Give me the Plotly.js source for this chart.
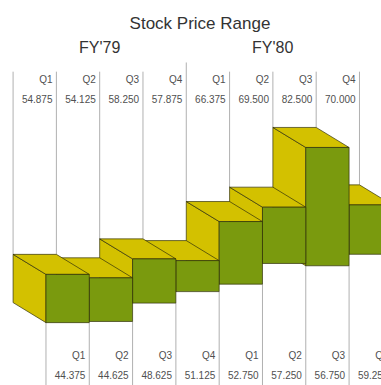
<!DOCTYPE html>
<html>
<head>
<meta charset="utf-8">
<script src="https://cdn.plot.ly/plotly-3.0.1.min.js"></script>
<style>html,body{margin:0;padding:0;background:#fff;overflow:hidden;}#chart{width:430px;height:385px;}</style>
</head>
<body>
<div id="chart"></div>
<script>
// ---- data ----
const years = ["FY'79", "FY'80"];
const quarters = ["Q1", "Q2", "Q3", "Q4", "Q1", "Q2", "Q3", "Q4"];
const highs = [54.875, 54.125, 58.25, 57.875, 66.375, 69.5, 82.5, 70.0];
const lows = [44.375, 44.625, 48.625, 51.125, 52.75, 57.25, 56.75, 59.25];
const highLabels = ["54.875", "54.125", "58.250", "57.875", "66.375", "69.500", "82.500", "70.000"];
const lowLabels = ["44.375", "44.625", "48.625", "51.125", "52.750", "57.250", "56.750", "59.250"];

// ---- style / projection constants ----
const DX = 0.76;      // oblique depth offset (category units, to the left)
const DY = 4.36;      // oblique depth offset (price units, upward)
const LINE_TOP = 99;  // top end of the label rules
const DIV_TOP = 101;  // top end of the fiscal-year divider
const LINE_BOTTOM = 20;
const GAP = 0.09;     // label gap from rule (category units)
const YELLOW = '#d3c100';
const GREEN = '#7a9a0e';
const EDGE = 'rgba(45,45,10,0.85)';
const RULE = '#b0b0b0';
const PLOT_W = 430;   // plot drawn wider than the 381px window; the right part is cut off
const X0 = -1.062, PX_PER_CAT = 43.3;
const n = highs.length;

const traces = [];

// rules above the boxes (from back top edges)
const tx = [], ty = [];
for (let k = 0; k <= n; k++) {
  const hs = [];
  if (k > 0) hs.push(highs[k - 1]);
  if (k < n) hs.push(highs[k]);
  tx.push(k - DX, k - DX, null);
  ty.push(Math.max(...hs) + DY, k === n / 2 ? DIV_TOP : LINE_TOP, null);
}
traces.push({x: tx, y: ty, mode: 'lines', line: {color: RULE, width: 1}, hoverinfo: 'skip'});

// rules below the boxes (from front bottom edges)
const bx = [], by = [];
for (let k = 0; k <= n; k++) {
  const ls = [];
  if (k > 0) ls.push(lows[k - 1]);
  if (k < n) ls.push(lows[k]);
  bx.push(k, k, null);
  by.push(Math.min(...ls), LINE_BOTTOM, null);
}
traces.push({x: bx, y: by, mode: 'lines', line: {color: RULE, width: 1}, hoverinfo: 'skip'});

// boxes, drawn right to left so that left boxes occlude right ones
for (let i = n - 1; i >= 0; i--) {
  const h = highs[i], l = lows[i];
  // left side face
  traces.push({
    x: [i, i - DX, i - DX, i, i], y: [h, h + DY, l + DY, l, h],
    mode: 'lines', fill: 'toself', fillcolor: YELLOW,
    line: {color: EDGE, width: 0.8}, hoverinfo: 'skip'
  });
  // top face
  traces.push({
    x: [i, i - DX, i + 1 - DX, i + 1, i], y: [h, h + DY, h + DY, h, h],
    mode: 'lines', fill: 'toself', fillcolor: YELLOW,
    line: {color: EDGE, width: 0.8}, hoverinfo: 'skip'
  });
  // front face
  traces.push({
    x: [i, i + 1, i + 1, i, i], y: [h, h, l, l, h],
    mode: 'lines', fill: 'toself', fillcolor: GREEN,
    line: {color: EDGE, width: 0.8}, hoverinfo: 'skip'
  });
}

// labels (y on a hidden paper-like axis y2)
const idx = quarters.map((q, i) => i);
const lblFont = {family: 'Liberation Sans, Arial, sans-serif', size: 10, color: '#505050'};
function textTrace(xs, ys, txt) {
  return {x: xs, y: ys, yaxis: 'y2', mode: 'text', text: txt, textposition: 'middle left',
          textfont: lblFont, cliponaxis: false, hoverinfo: 'skip'};
}
traces.push(textTrace(idx.map(i => i + 1 - DX - GAP), idx.map(() => 1 - 80 / 385), quarters));
traces.push(textTrace(idx.map(i => i + 1 - DX - GAP), idx.map(() => 1 - 100 / 385), highLabels));
traces.push(textTrace(idx.map(i => i + 1 - GAP), idx.map(() => 1 - 356 / 385), quarters));
traces.push(textTrace(idx.map(i => i + 1 - GAP), idx.map(() => 1 - 376 / 385), lowLabels));

const layout = {
  width: PLOT_W, height: 385,
  margin: {l: 0, r: 0, t: 0, b: 0},
  paper_bgcolor: '#ffffff', plot_bgcolor: '#ffffff',
  showlegend: false,
  title: {
    text: 'Stock Price Range',
    x: 200 / PLOT_W, xanchor: 'center', y: 1 - 23 / 385, yanchor: 'middle',
    font: {family: 'Liberation Sans, Arial, sans-serif', size: 17, color: '#333'}
  },
  xaxis: {range: [X0, X0 + PLOT_W / PX_PER_CAT], visible: false, fixedrange: true},
  yaxis: {range: [30.8, 114.6], visible: false, fixedrange: true},
  yaxis2: {range: [0, 1], overlaying: 'y', visible: false, fixedrange: true},
  annotations: years.map((yr, j) => ({
    text: yr, xref: 'x', yref: 'paper', x: 4 * j + 2 - DX, y: 1 - 47 / 385,
    xanchor: 'center', yanchor: 'middle', showarrow: false,
    font: {family: 'Liberation Sans, Arial, sans-serif', size: 16, color: '#333'}
  }))
};

Plotly.newPlot('chart', traces, layout, {staticPlot: true, displayModeBar: false});
</script>
</body>
</html>
